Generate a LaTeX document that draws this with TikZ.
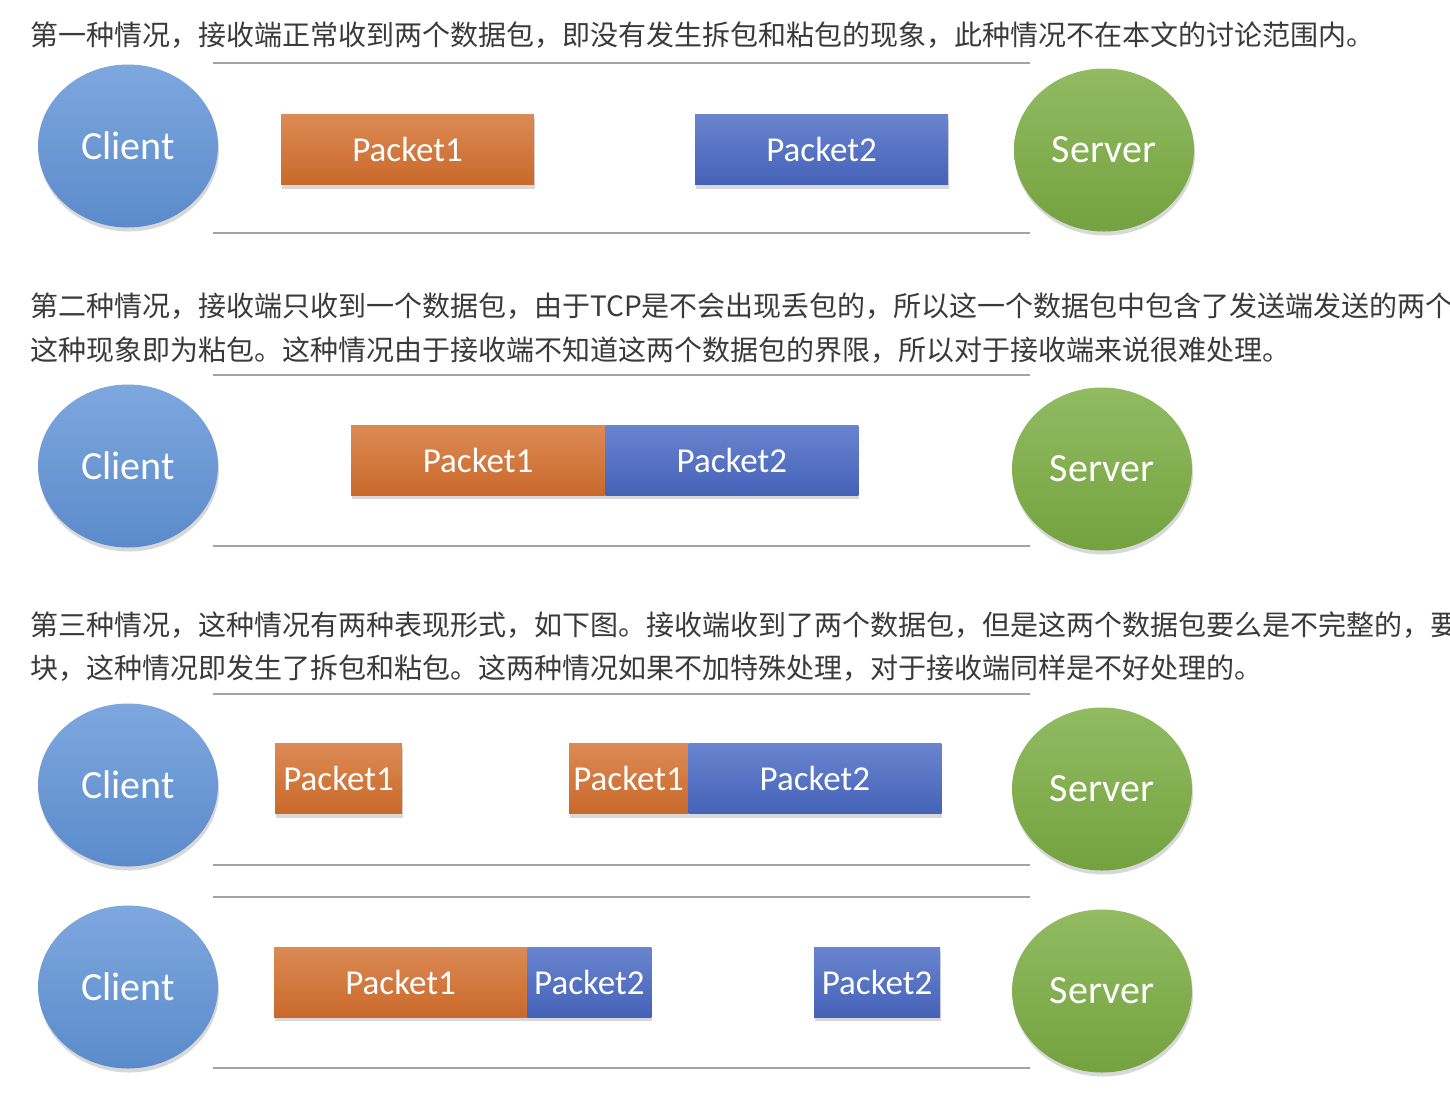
\documentclass[tikz,border=0pt]{standalone}
\usepackage{fontspec}
\setmainfont{Carlito}
\newfontfamily\cjk{Noto Sans CJK SC}
\usetikzlibrary{positioning,shapes.geometric,shadows}
\definecolor{clienttop}{HTML}{7EA7DE}
\definecolor{clientbot}{HTML}{5B8BCB}
\definecolor{servertop}{HTML}{92BB62}
\definecolor{serverbot}{HTML}{74A23F}
\definecolor{onetop}{HTML}{DC8A55}
\definecolor{onebot}{HTML}{C9692A}
\definecolor{twotop}{HTML}{6A84CE}
\definecolor{twobot}{HTML}{4462B8}
\definecolor{wiregray}{HTML}{A4A4A4}
\definecolor{textgray}{HTML}{3A3A3A}
\tikzset{%
  host/.style   = {shape=ellipse, inner sep=0pt,%
                   minimum width=180pt, minimum height=163pt,%
                   text=white, font=\fontsize{40}{40}\selectfont,%
                   drop shadow={shadow xshift=1pt, shadow yshift=-4pt, opacity=0.3}},%
  client/.style = {host, top color=clienttop, bottom color=clientbot},%
  server/.style = {host, top color=servertop, bottom color=serverbot},%
  packet/.style = {shape=rectangle, inner sep=0pt, minimum height=70pt,%
                   text=white, font=\fontsize{35}{35}\selectfont,%
                   drop shadow={shadow xshift=1pt, shadow yshift=-4pt, opacity=0.3}},%
  pone/.style   = {packet, top color=onetop, bottom color=onebot},%
  ptwo/.style   = {packet, top color=twotop, bottom color=twobot},%
  wire/.style   = {draw=wiregray, line width=2pt},%
  para/.style   = {anchor=base west, inner sep=0pt, text=textgray,%
                   font=\cjk\fontsize{28}{34}\selectfont}%
}
\begin{document}
\begin{tikzpicture}[x=1pt,y=-1pt]
	\useasboundingbox (0,0) rectangle (1450,1104);
	\fill[white] (0,0) rectangle (1450,1104);
	% texts
	\node[para] (t1) at (30,45) {第一种情况，接收端正常收到两个数据包，即没有发生拆包和粘包的现象，此种情况不在本文的讨论范围内。};
	\node[para] (t2) at (30,316) {第二种情况，接收端只收到一个数据包，由于TCP是不会出现丢包的，所以这一个数据包中包含了发送端发送的两个};
	\node[para] (t3) at (30,360) {这种现象即为粘包。这种情况由于接收端不知道这两个数据包的界限，所以对于接收端来说很难处理。};
	\node[para] (t4) at (30,635) {第三种情况，这种情况有两种表现形式，如下图。接收端收到了两个数据包，但是这两个数据包要么是不完整的，要};
	\node[para] (t5) at (30,678) {块，这种情况即发生了拆包和粘包。这两种情况如果不加特殊处理，对于接收端同样是不好处理的。};
	% case 1
	\draw[wire] (213,63) -- (1030,63);
	\draw[wire] (213,233) -- (1030,233);
	\node[client] (c1) at (128,146) {Client};
	\node[server] (s1) at (1104,150) {Server};
	\node[pone, minimum width=253pt] (c1p1) at (407.5,149.5) {Packet1};
	\node[ptwo, minimum width=253pt] (c1p2) at (821.5,149.5) {Packet2};
	% case 2
	\draw[wire] (213,375) -- (1030,375);
	\draw[wire] (213,546) -- (1030,546);
	\node[client] (c2) at (128,466) {Client};
	\node[server] (s2) at (1102,469) {Server};
	\node[pone, minimum width=254pt] (c2p1) at (478,460) {Packet1};
	\node[ptwo, minimum width=253pt, right=0pt of c2p1] (c2p2) {Packet2};
	% case 3
	\draw[wire] (213,694) -- (1030,694);
	\draw[wire] (213,865) -- (1030,865);
	\node[client] (c3) at (128,785) {Client};
	\node[server] (s3) at (1102,789) {Server};
	\node[pone, minimum width=127pt] (c3p1) at (338.5,778.5) {Packet1};
	\node[pone, minimum width=119pt] (c3p1b) at (628.5,778.5) {Packet1};
	\node[ptwo, minimum width=253pt, right=0pt of c3p1b] (c3p2) {Packet2};
	% case 4
	\draw[wire] (213,897) -- (1030,897);
	\draw[wire] (213,1068) -- (1030,1068);
	\node[client] (c4) at (128,987) {Client};
	\node[server] (s4) at (1102,991) {Server};
	\node[pone, minimum width=253pt] (c4p1) at (400.5,982) {Packet1};
	\node[ptwo, minimum width=124pt, right=0pt of c4p1] (c4p2) {Packet2};
	\node[ptwo, minimum width=126pt] (c4p2b) at (877,982) {Packet2};
\end{tikzpicture}
\end{document}
